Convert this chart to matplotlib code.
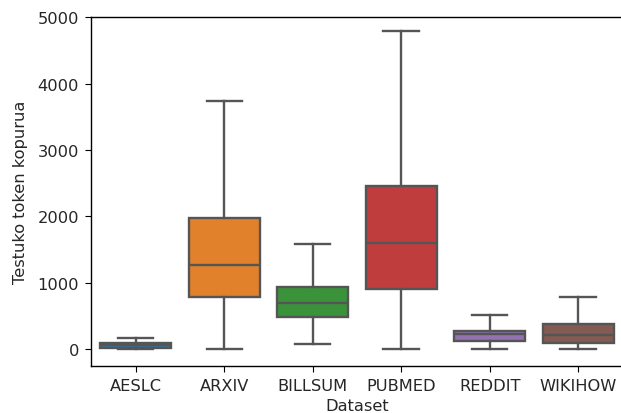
import matplotlib
matplotlib.use("agg")
import matplotlib.pyplot as plt
import seaborn as sns

datasets = ["AESLC", "ARXIV", "BILLSUM", "PUBMED", "REDDIT", "WIKIHOW"]
whisker_low = [0, 0, 80, 0, 0, 0]
q1 = [15, 780, 485, 900, 120, 90]
median = [55, 1265, 690, 1605, 230, 210]
q3 = [95, 1970, 932, 2455, 272, 376]
whisker_high = [160, 3735, 1580, 4790, 515, 783]

colors = sns.color_palette("tab10", len(datasets), desat=0.75)
line_color = "#555555"
text_color = "#262626"
lw = 1.7

stats = []
for i, name in enumerate(datasets):
    stats.append({
        "label": name,
        "whislo": whisker_low[i],
        "q1": q1[i],
        "med": median[i],
        "q3": q3[i],
        "whishi": whisker_high[i],
        "fliers": [],
    })

plt.rcParams["font.size"] = 11.7
plt.rcParams["axes.linewidth"] = 1.0

fig = plt.figure(figsize=(6.21, 4.14), dpi=100)
ax = fig.add_axes([0.1473, 0.1135, 0.855, 0.844])

bp = ax.bxp(stats, positions=range(len(datasets)), widths=0.8, patch_artist=True,
            showfliers=False, capwidths=0.4,
            boxprops=dict(edgecolor=line_color, linewidth=lw),
            whiskerprops=dict(color=line_color, linewidth=lw),
            capprops=dict(color=line_color, linewidth=lw),
            medianprops=dict(color=line_color, linewidth=lw))
for patch, c in zip(bp["boxes"], colors):
    patch.set_facecolor(c)

ax.set_xlim(-0.5, len(datasets) - 0.5)
ax.set_ylim(-255, 5012)
ax.set_xticks(range(len(datasets)))
ax.set_xticklabels(datasets)
ax.tick_params(labelsize=11.7, length=4.4, labelcolor=text_color, pad=4.5)
ax.set_xlabel("Dataset", fontsize=11.7, labelpad=3.5, color=text_color)
ax.set_ylabel("Testuko token kopurua", fontsize=11.7, labelpad=7, color=text_color)

fig.savefig("out.png", dpi=100)
plt.close()
